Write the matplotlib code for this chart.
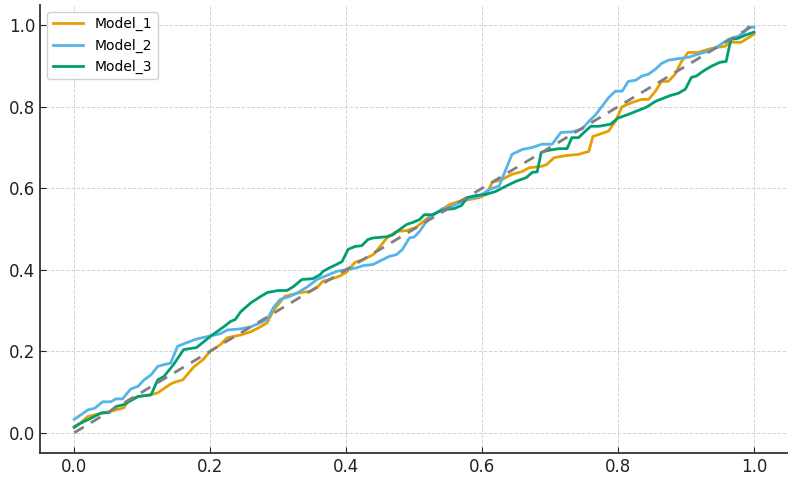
import matplotlib
matplotlib.use("Agg")
import matplotlib.pyplot as plt

# Values (x, y pairs per model)
m1_x = [0.0, 0.01, 0.02, 0.044, 0.073, 0.08, 0.094, 0.113, 0.123, 0.142, 0.15, 0.16,
        0.175, 0.18, 0.19, 0.2, 0.215, 0.225, 0.245, 0.26, 0.274, 0.284, 0.293, 0.31,
        0.33, 0.347, 0.357, 0.366, 0.376, 0.39, 0.40, 0.413, 0.425, 0.44, 0.45, 0.46,
        0.474, 0.489, 0.503, 0.508, 0.523, 0.537, 0.552, 0.567, 0.581, 0.596, 0.606,
        0.615, 0.63, 0.644, 0.659, 0.669, 0.688, 0.695, 0.706, 0.723, 0.742, 0.752,
        0.757, 0.763, 0.772, 0.786, 0.796, 0.806, 0.82, 0.835, 0.845, 0.855, 0.864,
        0.874, 0.884, 0.893, 0.903, 0.918, 0.933, 0.947, 0.957, 0.966, 0.981, 1.0]
m1_y = [0.015, 0.025, 0.04, 0.049, 0.061, 0.08, 0.089, 0.093, 0.098, 0.12, 0.125, 0.13,
        0.16, 0.167, 0.18, 0.2, 0.216, 0.233, 0.24, 0.248, 0.26, 0.27, 0.30, 0.335,
        0.343, 0.347, 0.356, 0.372, 0.376, 0.384, 0.393, 0.418, 0.425, 0.437, 0.457, 0.478,
        0.494, 0.496, 0.504, 0.511, 0.531, 0.543, 0.56, 0.568, 0.572, 0.577, 0.585,
        0.614, 0.622, 0.634, 0.641, 0.65, 0.654, 0.658, 0.675, 0.68, 0.683, 0.688,
        0.69, 0.727, 0.732, 0.74, 0.764, 0.80, 0.81, 0.818, 0.818, 0.838, 0.862,
        0.862, 0.88, 0.91, 0.933, 0.933, 0.941, 0.946, 0.948, 0.958, 0.958, 0.978]

m2_x = [0.0, 0.01, 0.02, 0.03, 0.042, 0.054, 0.061, 0.071, 0.083, 0.094, 0.103, 0.113,
        0.123, 0.132, 0.142, 0.152, 0.164, 0.18, 0.196, 0.215, 0.225, 0.245, 0.26,
        0.274, 0.284, 0.293, 0.303, 0.318, 0.328, 0.343, 0.357, 0.372, 0.386, 0.40,
        0.416, 0.425, 0.44, 0.454, 0.464, 0.474, 0.483, 0.493, 0.50, 0.508, 0.52, 0.533,
        0.542, 0.552, 0.567, 0.581, 0.596, 0.606, 0.615, 0.625, 0.635, 0.644, 0.659,
        0.674, 0.688, 0.703, 0.716, 0.732, 0.747, 0.757, 0.767, 0.776, 0.786, 0.796,
        0.806, 0.815, 0.826, 0.835, 0.845, 0.855, 0.864, 0.874, 0.889, 0.903, 0.918,
        0.933, 0.947, 0.962, 0.977, 0.986, 0.991, 1.0]
m2_y = [0.033, 0.044, 0.056, 0.06, 0.076, 0.076, 0.083, 0.083, 0.107, 0.114, 0.13, 0.142,
        0.163, 0.167, 0.171, 0.212, 0.22, 0.23, 0.236, 0.243, 0.252, 0.255, 0.26,
        0.27, 0.278, 0.307, 0.327, 0.335, 0.343, 0.358, 0.376, 0.386, 0.396, 0.40,
        0.405, 0.41, 0.413, 0.425, 0.433, 0.437, 0.45, 0.478, 0.48, 0.494, 0.523, 0.54,
        0.55, 0.553, 0.565, 0.575, 0.58, 0.592, 0.60, 0.605, 0.646, 0.683, 0.695,
        0.70, 0.708, 0.708, 0.737, 0.738, 0.745, 0.764, 0.78, 0.80, 0.822, 0.838,
        0.838, 0.862, 0.865, 0.875, 0.88, 0.892, 0.906, 0.914, 0.918, 0.921, 0.929,
        0.936, 0.948, 0.965, 0.973, 0.983, 0.995, 0.995]

m3_x = [0.0, 0.01, 0.025, 0.04, 0.051, 0.061, 0.073, 0.094, 0.113, 0.123, 0.132, 0.146,
        0.161, 0.18, 0.2, 0.21, 0.22, 0.23, 0.237, 0.245, 0.26, 0.274, 0.284, 0.30,
        0.313, 0.322, 0.335, 0.351, 0.362, 0.366, 0.376, 0.386, 0.394, 0.403, 0.413,
        0.423, 0.432, 0.44, 0.46, 0.469, 0.479, 0.489, 0.498, 0.508, 0.515, 0.527,
        0.537, 0.547, 0.559, 0.57, 0.578, 0.591, 0.606, 0.62, 0.635, 0.65, 0.665,
        0.674, 0.681, 0.687, 0.698, 0.713, 0.725, 0.732, 0.742, 0.75, 0.76, 0.772,
        0.789, 0.80, 0.815, 0.83, 0.842, 0.855, 0.87, 0.878, 0.889, 0.899, 0.908, 0.915,
        0.925, 0.937, 0.95, 0.959, 0.966, 0.977, 0.988, 1.0]
m3_y = [0.013, 0.024, 0.036, 0.049, 0.049, 0.064, 0.069, 0.089, 0.093, 0.13, 0.138, 0.167,
        0.204, 0.209, 0.236, 0.248, 0.26, 0.273, 0.278, 0.297, 0.319, 0.334, 0.344, 0.349,
        0.349, 0.358, 0.376, 0.378, 0.388, 0.396, 0.405, 0.413, 0.42, 0.45, 0.457,
        0.459, 0.474, 0.478, 0.481, 0.486, 0.499, 0.511, 0.516, 0.523, 0.535, 0.535,
        0.543, 0.548, 0.55, 0.558, 0.577, 0.582, 0.585, 0.592, 0.605, 0.617, 0.626,
        0.639, 0.64, 0.688, 0.693, 0.697, 0.697, 0.724, 0.724, 0.737, 0.752, 0.752,
        0.757, 0.772, 0.781, 0.791, 0.799, 0.813, 0.823, 0.828, 0.833, 0.843, 0.872, 0.875,
        0.887, 0.899, 0.909, 0.911, 0.965, 0.968, 0.976, 0.983]

series = [("Model_1", m1_x, m1_y, "#E69F00"),
          ("Model_2", m2_x, m2_y, "#56B4E9"),
          ("Model_3", m3_x, m3_y, "#009E73")]

fig = plt.figure(figsize=(7.88, 4.79), dpi=100)
ax = fig.add_axes([0.051, 0.054, 0.949, 0.936])

for name, xs, ys, col in series:
    ax.plot(xs, ys, color=col, lw=2, label=name)

# perfect calibration reference
ax.plot([0, 1], [0, 1], color="gray", lw=2, ls=(0, (4, 3)))

ax.set_xlim(-0.05, 1.05)
ax.set_ylim(-0.05, 1.05)
ax.set_xticks([0, 0.2, 0.4, 0.6, 0.8, 1.0])
ax.set_yticks([0, 0.2, 0.4, 0.6, 0.8, 1.0])
ax.tick_params(direction="in", labelsize=12, length=4, colors="#222222")
ax.grid(True, ls="--", lw=0.7, color="#d4d4d4")
for s in ["top", "right"]:
    ax.spines[s].set_visible(False)
for s in ["left", "bottom"]:
    ax.spines[s].set_linewidth(1.3)
    ax.spines[s].set_color("#333333")

ax.legend(loc="upper left", fontsize=10, handlelength=2.2, framealpha=0.9)

plt.savefig("out.png", dpi=100)
plt.close()
